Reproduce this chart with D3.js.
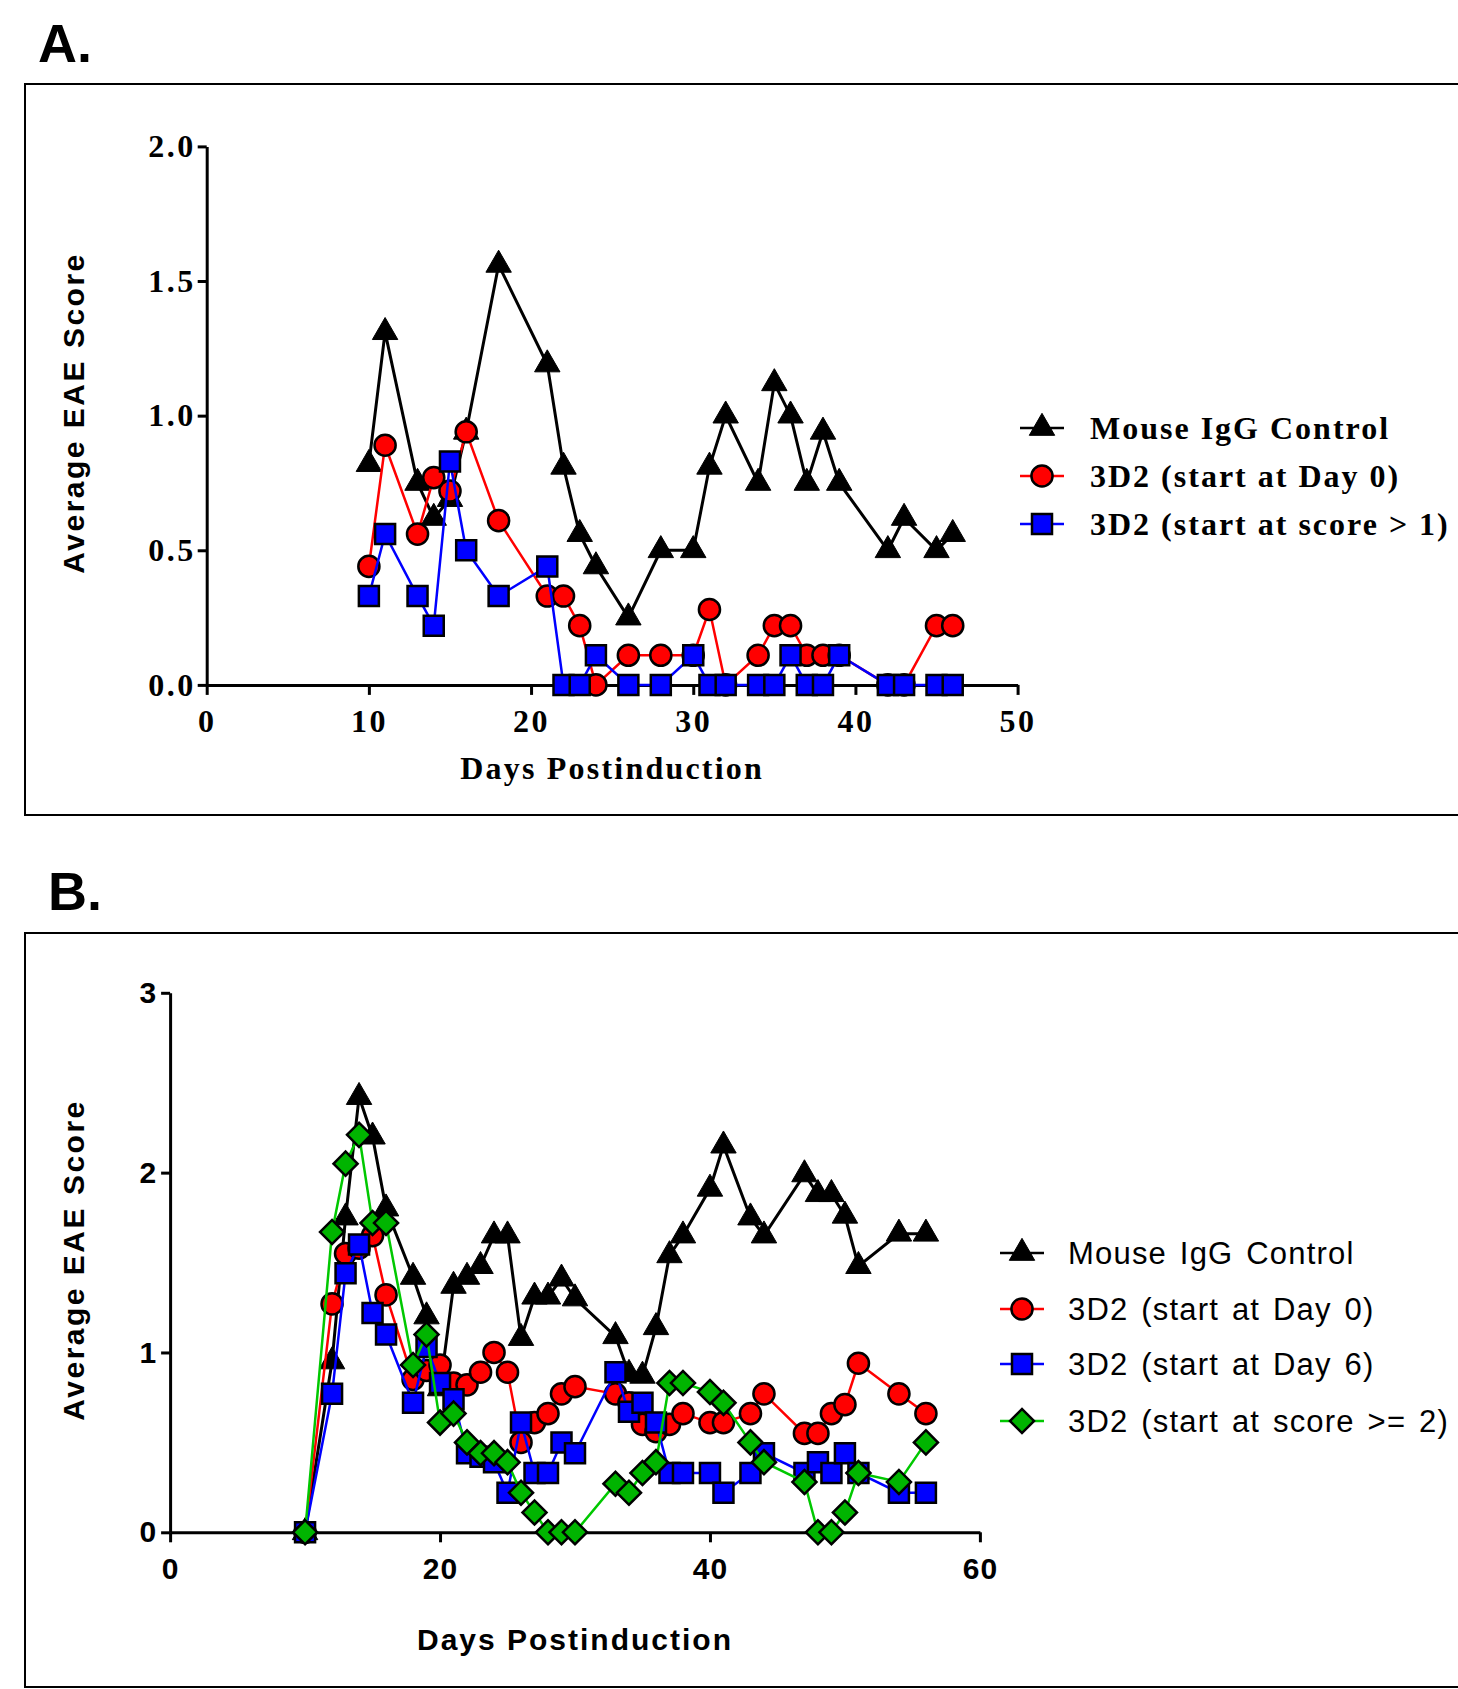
<!DOCTYPE html>
<meta charset="utf-8">
<style>

body {
  margin: 0;
  background: #fff;
}

svg {
  display: block;
}

.serif text, text.serif {
  font-family: "Liberation Serif", "Times New Roman", serif;
  font-weight: bold;
  font-size: 32px;
  letter-spacing: 2.2px;
  fill: #000;
}

.sans text, text.sans {
  font-family: "Liberation Sans", Arial, sans-serif;
  fill: #000;
}

.panel-label {
  font-family: "Liberation Sans", Arial, sans-serif;
  font-weight: bold;
  font-size: 54px;
}

.frame {
  fill: none;
  stroke: #000;
  stroke-width: 2px;
}

.axis path, .axis line {
  stroke: #000;
  stroke-width: 3px;
}

</style>
<svg></svg>
<script src="https://d3js.org/d3.v7.min.js"></script>
<script>

// ---- panel A data ----
var daysA = [10, 11, 13, 14, 15, 16, 18, 21, 22, 23, 24, 26, 28, 30, 31, 32, 34, 35, 36, 37, 38, 39, 42, 43, 45, 46];
var iggA = [0.82, 1.31, 0.75, 0.62, 0.69, 0.94, 1.56, 1.19, 0.81, 0.56, 0.44, 0.25, 0.5, 0.5, 0.81, 1.0, 0.75, 1.12, 1.0, 0.75, 0.94, 0.75, 0.5, 0.62, 0.5, 0.56];
var day0A = [0.44, 0.89, 0.56, 0.77, 0.72, 0.94, 0.61, 0.33, 0.33, 0.22, 0, 0.11, 0.11, 0.11, 0.28, 0, 0.11, 0.22, 0.22, 0.11, 0.11, 0.11, 0, 0, 0.22, 0.22];
var score1A = [0.33, 0.56, 0.33, 0.22, 0.83, 0.5, 0.33, 0.44, 0, 0, 0.11, 0, 0, 0.11, 0, 0, 0, 0, 0.11, 0, 0, 0.11, 0, 0, 0, 0];
var namesA = ['Mouse IgG Control', '3D2 (start at Day 0)', '3D2 (start at score > 1)'];
var xTicksA = [0, 10, 20, 30, 40, 50];
var yTicksA = [0, 0.5, 1.0, 1.5, 2.0];

// ---- panel B data ----
var daysB = [10, 12, 13, 14, 15, 16, 18, 19, 20, 21, 22, 23, 24, 25, 26, 27, 28, 29, 30, 33, 34, 35, 36, 37, 38, 40, 41, 43, 44, 47, 48, 49, 50, 51, 54, 56];
var iggB = [0, 0.95, 1.75, 2.42, 2.2, 1.8, 1.42, 1.2, 0.8, 1.37, 1.42, 1.48, 1.65, 1.65, 1.08, 1.31, 1.31, 1.41, 1.3, 1.09, 0.88, 0.87, 1.14, 1.54, 1.65, 1.91, 2.15, 1.75, 1.65, 1.99, 1.88, 1.88, 1.76, 1.48, 1.66, 1.66];
var day0B = [0, 1.27, 1.55, 1.58, 1.65, 1.32, 0.85, 0.9, 0.93, 0.83, 0.82, 0.89, 1.0, 0.89, 0.5, 0.61, 0.66, 0.77, 0.81, 0.77, 0.72, 0.6, 0.56, 0.6, 0.66, 0.61, 0.61, 0.66, 0.77, 0.55, 0.55, 0.66, 0.71, 0.94, 0.77, 0.66];
var day6B = [0, 0.77, 1.44, 1.6, 1.22, 1.1, 0.72, 1.03, 0.83, 0.74, 0.44, 0.42, 0.39, 0.22, 0.61, 0.33, 0.33, 0.5, 0.44, 0.89, 0.67, 0.72, 0.61, 0.33, 0.33, 0.33, 0.22, 0.33, 0.44, 0.33, 0.39, 0.33, 0.44, 0.33, 0.22, 0.22];
var score2B = [0, 1.67, 2.05, 2.21, 1.72, 1.72, 0.93, 1.1, 0.61, 0.66, 0.5, 0.44, 0.44, 0.39, 0.22, 0.11, 0, 0, 0, 0.27, 0.22, 0.33, 0.39, 0.83, 0.83, 0.78, 0.72, 0.5, 0.39, 0.28, 0, 0, 0.11, 0.33, 0.28, 0.5];
var namesB = ['Mouse IgG Control', '3D2 (start at Day 0)', '3D2 (start at Day 6)', '3D2 (start at score >= 2)'];
var xTicksB = [0, 20, 40, 60];
var yTicksB = [0, 1, 2, 3];

// marker / line styles per series
var styles = {
  igg: { shape: 'triangle', fill: '#000', line: '#000' },
  day0: { shape: 'circle', fill: '#ff0000', line: '#ff0000' },
  day6: { shape: 'square', fill: '#0000ff', line: '#0000ff' },
  score1: { shape: 'square', fill: '#0000ff', line: '#0000ff' },
  score2: { shape: 'diamond', fill: '#00b400', line: '#00c800' }
};

var W = 1458, H = 1689;

var svg = d3.select('svg')
  .attr('width', W)
  .attr('height', H);

svg.append('rect')
  .attr('width', W)
  .attr('height', H)
  .attr('fill', '#fff');

function symbolPath(shape) {
  if (shape === 'triangle') return d3.symbol(d3.symbolTriangle, 280)();
  if (shape === 'circle') return d3.symbol(d3.symbolCircle, 350)();
  if (shape === 'square') return d3.symbol(d3.symbolSquare, 400)();
  return d3.symbol(d3.symbolSquare, 290)();
}

function addMarker(g, st, cx, cy) {
  g.append('path')
    .attr('d', symbolPath(st.shape))
    .attr('transform', 'translate(' + cx + ',' + cy + ')' + (st.shape === 'diamond' ? ' rotate(45)' : ''))
    .attr('fill', st.fill)
    .attr('stroke', '#000')
    .attr('stroke-width', st.shape === 'triangle' ? 1 : 2.5)
    .attr('stroke-linejoin', 'miter');
}

function drawSeries(g, days, values, st, x, y) {
  var pts = days.map(function (d, i) { return [d, values[i]]; });

  g.append('path')
    .datum(pts)
    .attr('fill', 'none')
    .attr('stroke', st.line)
    .attr('stroke-width', st.shape === 'triangle' ? 3 : 2.5)
    .attr('d', d3.line()
      .x(function (d) { return x(d[0]); })
      .y(function (d) { return y(d[1]); }));

  pts.forEach(function (p) {
    addMarker(g, st, x(p[0]), y(p[1]));
  });
}

function drawPanel(p) {
  var g = svg.append('g');

  g.append('text')
    .attr('class', 'panel-label')
    .attr('x', p.labelX)
    .attr('y', p.labelY)
    .text(p.label);

  g.append('rect')
    .attr('class', 'frame')
    .attr('x', 25)
    .attr('y', p.frameTop)
    .attr('width', 1500)
    .attr('height', p.frameBottom - p.frameTop);

  var xAxis = d3.axisBottom(p.x)
    .tickValues(p.xTicks)
    .tickFormat(d3.format('d'))
    .tickSize(10)
    .tickSizeOuter(0)
    .tickPadding(p.xPad);

  var yAxis = d3.axisLeft(p.y)
    .tickValues(p.yTicks)
    .tickFormat(p.yFormat)
    .tickSize(9)
    .tickSizeOuter(0)
    .tickPadding(p.yPad);

  var gx = g.append('g')
    .attr('class', 'x axis ' + p.tickClass)
    .attr('transform', 'translate(0,' + p.y(0) + ')')
    .call(xAxis);

  var gy = g.append('g')
    .attr('class', 'y axis ' + p.tickClass)
    .attr('transform', 'translate(' + p.x(0) + ',0)')
    .call(yAxis);

  [gx, gy].forEach(function (a) {
    a.attr('font-family', null).attr('font-size', null);
    a.selectAll('text')
      .style('font-size', p.tickSize + 'px')
      .style('font-weight', 'bold')
      .style('letter-spacing', p.tickSpacing + 'px');
  });

  // axis titles
  g.append('text')
    .attr('class', p.tickClass)
    .attr('x', (p.x.range()[0] + p.x.range()[1]) / 2)
    .attr('y', p.xTitleY)
    .attr('text-anchor', 'middle')
    .style('font-size', p.xTitleSize + 'px')
    .style('font-weight', 'bold')
    .style('letter-spacing', p.xTitleSpacing + 'px')
    .text('Days Postinduction');

  g.append('text')
    .attr('class', 'sans')
    .attr('transform', 'translate(84,' + p.yTitleY + ') rotate(-90)')
    .attr('text-anchor', 'middle')
    .style('font-size', '30px')
    .style('font-weight', 'bold')
    .style('letter-spacing', '2.5px')
    .text('Average EAE Score');

  // series
  var plot = g.append('g');
  p.series.forEach(function (s) {
    drawSeries(plot, p.days, s.values, s.style, p.x, p.y);
  });

  // legend
  var leg = g.append('g');
  p.series.forEach(function (s, i) {
    var cy = p.legendY[i];
    leg.append('line')
      .attr('x1', p.legendX0)
      .attr('x2', p.legendX1)
      .attr('y1', cy)
      .attr('y2', cy)
      .attr('stroke', s.style.line)
      .attr('stroke-width', 2.5);
    addMarker(leg, s.style, (p.legendX0 + p.legendX1) / 2, cy);
    leg.append('text')
      .attr('class', p.tickClass)
      .attr('x', p.legendTextX)
      .attr('y', cy + p.legendBase)
      .style('font-size', p.legendSize + 'px')
      .style('font-weight', p.legendWeight)
      .style('letter-spacing', p.legendSpacing + 'px')
      .style('word-spacing', p.legendWord + 'px')
      .text(s.name);
  });
}

drawPanel({
  label: 'A.', labelX: 38, labelY: 62,
  frameTop: 84, frameBottom: 815,
  x: d3.scaleLinear().domain([0, 50]).range([206.7, 1017.6]),
  y: d3.scaleLinear().domain([0, 2]).range([684.9, 146.4]),
  xTicks: xTicksA, yTicks: yTicksA, yFormat: d3.format('.1f'),
  tickClass: 'serif', tickSize: 32, tickSpacing: 2.5, xPad: 14, yPad: 2,
  xTitleY: 779, xTitleSize: 32, xTitleSpacing: 2.2,
  yTitleY: 413,
  days: daysA,
  series: [
    { name: namesA[0], values: iggA, style: styles.igg },
    { name: namesA[1], values: day0A, style: styles.day0 },
    { name: namesA[2], values: score1A, style: styles.score1 }
  ],
  legendX0: 1020, legendX1: 1064, legendTextX: 1090,
  legendY: [428, 476, 524], legendBase: 10.6,
  legendSize: 32, legendWeight: 'bold', legendSpacing: 2, legendWord: 0
});

drawPanel({
  label: 'B.', labelX: 48, labelY: 910,
  frameTop: 933, frameBottom: 1687,
  x: d3.scaleLinear().domain([0, 60]).range([170.1, 979.9]),
  y: d3.scaleLinear().domain([0, 3]).range([1532.3, 992.8]),
  xTicks: xTicksB, yTicks: yTicksB, yFormat: d3.format('d'),
  tickClass: 'sans', tickSize: 30, tickSpacing: 1, xPad: 15, yPad: 4,
  xTitleY: 1650, xTitleSize: 30, xTitleSpacing: 2,
  yTitleY: 1260,
  days: daysB,
  series: [
    { name: namesB[0], values: iggB, style: styles.igg },
    { name: namesB[1], values: day0B, style: styles.day0 },
    { name: namesB[2], values: day6B, style: styles.day6 },
    { name: namesB[3], values: score2B, style: styles.score2 }
  ],
  legendX0: 1000, legendX1: 1044, legendTextX: 1068,
  legendY: [1253, 1309, 1364, 1421], legendBase: 10.7,
  legendSize: 31, legendWeight: 'normal', legendSpacing: 1.2, legendWord: 3
});

</script>
